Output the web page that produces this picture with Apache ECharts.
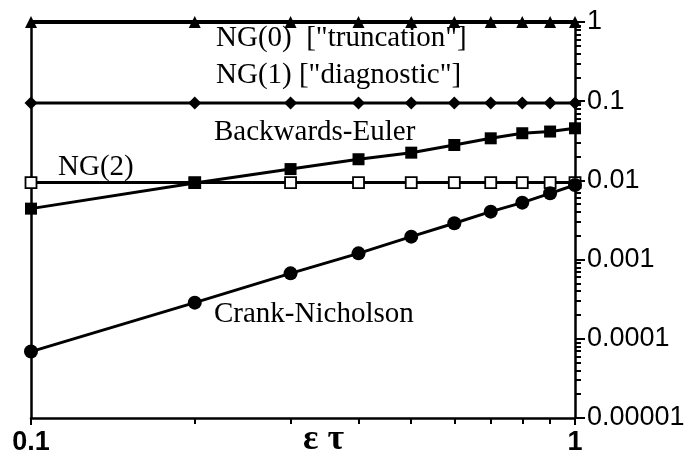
<!DOCTYPE html>
<html>
<head>
<meta charset="utf-8">
<script src="https://cdn.jsdelivr.net/npm/echarts@6/dist/echarts.min.js"></script>
<style>
  html, body { margin: 0; padding: 0; background: #fff; }
  #chart { width: 685px; height: 458px; }
</style>
</head>
<body>
<div id="chart"></div>
<script>
// eps*tau values along the bottom axis
const xValues = [0.1, 0.2, 0.3, 0.4, 0.5, 0.6, 0.7, 0.8, 0.9, 1.0];

// error curves
const ng0 = [1, 1, 1, 1, 1, 1, 1, 1, 1, 1];
const ng1 = [0.095, 0.095, 0.095, 0.095, 0.095, 0.095, 0.095, 0.095, 0.095, 0.095];
const ng2 = [0.0094, 0.0094, 0.0094, 0.0094, 0.0094, 0.0094, 0.0094, 0.0094, 0.0094, 0.0094];
const backwardsEuler = [0.0044, 0.0093, 0.0139, 0.0185, 0.0224, 0.028, 0.034, 0.0394, 0.0414, 0.0455];
const crankNicholson = [6.9e-5, 2.86e-4, 6.7e-4, 1.2e-3, 1.95e-3, 2.88e-3, 4.03e-3, 5.24e-3, 6.87e-3, 8.75e-3];

// axis labels
const xLabelValues = [0.1, 1];
const xLabels = ['0.1', '1'];
const yLabelValues = [1e-5, 1e-4, 1e-3, 1e-2, 1e-1, 1];
const yLabels = ['0.00001', '0.0001', '0.001', '0.01', '0.1', '1'];

const pickLabel = (values, labels) => v => {
  const i = values.findIndex(t => Math.abs(Math.log10(t) - Math.log10(v)) < 1e-6);
  return i >= 0 ? labels[i] : '';
};

const pairs = ys => xValues.map((x, i) => [x, ys[i]]);

const chart = echarts.init(document.getElementById('chart'));

const sans = 'Liberation Sans';
const textFont = '29px "Liberation Serif"';
const tickColor = '#000';

const lineSeries = (name, ys, symbol, size, width, hollow) => ({
  name,
  type: 'line',
  data: pairs(ys),
  symbol,
  symbolSize: size,
  showAllSymbol: true,
  clip: false,
  lineStyle: { color: '#000', width },
  itemStyle: hollow
    ? { color: '#fff', borderColor: '#000', borderWidth: 1.8 }
    : { color: '#000', borderWidth: 0 },
  animation: false
});

// frame-only axes for the left and top edges of the box
const frameAxis = pos => ({
  type: 'log', logBase: 10, position: pos,
  axisLine: { show: true, onZero: false, lineStyle: { color: '#000', width: 2.5 } },
  axisTick: { show: false }, axisLabel: { show: false }, splitLine: { show: false }
});

const option = {
  animation: false,
  grid: {
    left: 31, right: 110, top: 22, bottom: 40,
    outerBoundsMode: 'none'
  },
  xAxis: [
    {
      type: 'log',
      logBase: 10,
      min: 0.1,
      max: 1,
      position: 'bottom',
      axisLine: { show: true, onZero: false, lineStyle: { color: '#000', width: 2.5 } },
      axisTick: { show: true, length: 7, lineStyle: { color: tickColor, width: 2 } },
      minorTick: { show: true, splitNumber: 9, length: 6, lineStyle: { color: tickColor, width: 2 } },
      axisLabel: {
        customValues: xLabelValues,
        formatter: pickLabel(xLabelValues, xLabels),
        color: '#000', fontFamily: sans, fontSize: 27, fontWeight: 'bold', margin: 11
      },
      splitLine: { show: false }
    },
    Object.assign(frameAxis('top'), { min: 0.1, max: 1 })
  ],
  yAxis: [
    {
      type: 'log',
      logBase: 10,
      min: 1e-5,
      max: 1,
      position: 'right',
      axisLine: { show: true, onZero: false, lineStyle: { color: '#000', width: 2.5 } },
      axisTick: { show: true, length: 10, lineStyle: { color: tickColor, width: 2 } },
      minorTick: { show: true, splitNumber: 9, length: 6, lineStyle: { color: tickColor, width: 2 } },
      axisLabel: {
        customValues: yLabelValues,
        formatter: pickLabel(yLabelValues, yLabels),
        color: '#000', fontFamily: sans, fontSize: 27, margin: 12
      },
      splitLine: { show: false }
    },
    Object.assign(frameAxis('left'), { min: 1e-5, max: 1 })
  ],
  series: [
    lineSeries('NG(0)', ng0, 'triangle', 12, 4, false),
    lineSeries('NG(1)', ng1, 'diamond', 13, 3, false),
    lineSeries('NG(2)', ng2, 'rect', 11, 3, true),
    lineSeries('Backwards-Euler', backwardsEuler, 'rect', 12, 3, false),
    lineSeries('Crank-Nicholson', crankNicholson, 'circle', 14, 3, false)
  ],
  graphic: [
    { type: 'text', left: 216, top: 24, style: { text: 'NG(0)  ["truncation"]', font: textFont, fill: '#000' } },
    { type: 'text', left: 216, top: 61, style: { text: 'NG(1) ["diagnostic"]', font: textFont, fill: '#000' } },
    { type: 'text', left: 214, top: 118, style: { text: 'Backwards-Euler', font: textFont, fill: '#000' } },
    { type: 'text', left: 58, top: 153, style: { text: 'NG(2)', font: textFont, fill: '#000' } },
    { type: 'text', left: 214, top: 300, style: { text: 'Crank-Nicholson', font: textFont, fill: '#000' } },
    { type: 'text', left: 303, top: 422, style: { text: 'ε τ', font: 'bold 36px "Liberation Serif"', fill: '#000' } }
  ]
};

chart.setOption(option);
</script>
</body>
</html>
